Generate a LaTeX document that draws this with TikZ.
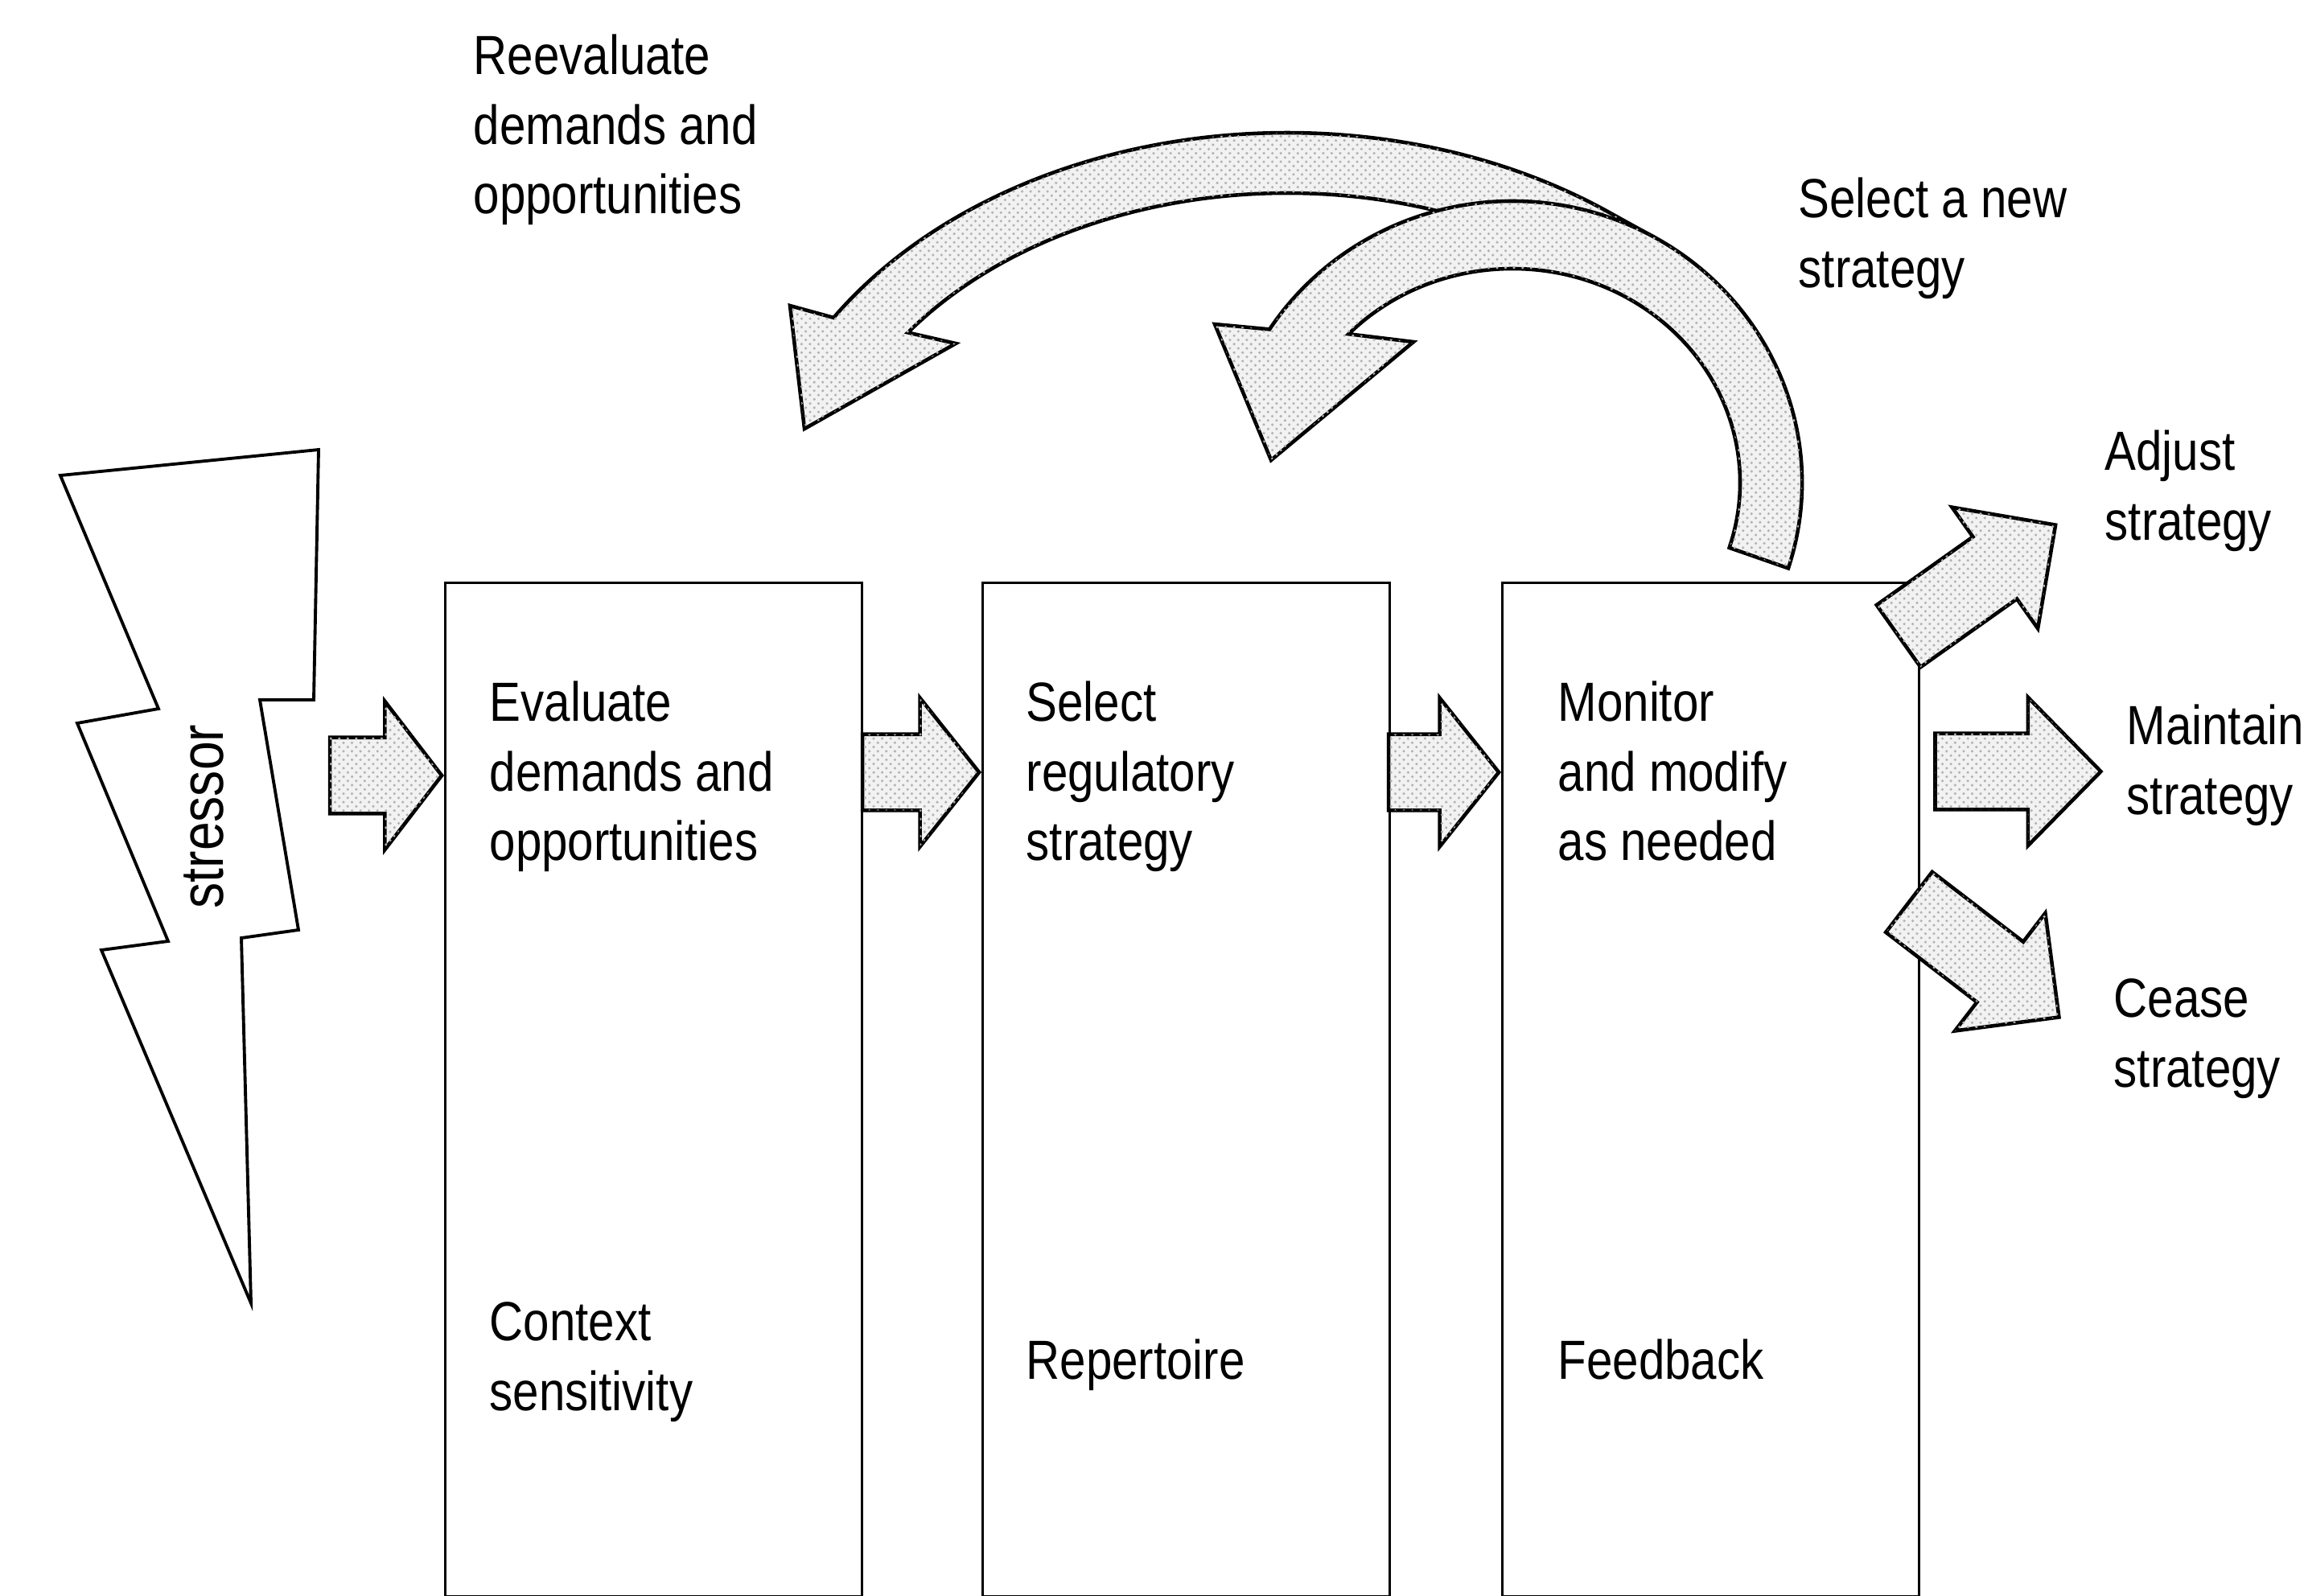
\documentclass[tikz,border=0pt]{standalone}
\usepackage{fontspec}
\setmainfont{Liberation Sans}[FakeStretch=0.85]
\providecommand{\rsColorArrow}{gray!10}
\providecommand{\rsColorDots}{gray!60}
\providecommand{\rsStroke}{black}
\usetikzlibrary{calc,positioning,shapes.arrows,patterns}
\tikzset{
  box/.style 2 args={draw=\rsStroke,line width=0.9pt,minimum width=#1,minimum height=#2,inner sep=0pt,anchor=north west},
  lbl/.style={font=\fontsize{19.5}{24.7}\selectfont,align=left,inner sep=0pt,anchor=north west},
  % light stipple used by every fat arrow
  dotfill/.style={fill=\rsColorArrow,postaction={pattern=crosshatch dots,pattern color=\rsColorDots}},
  barrow/.style={single arrow,draw=\rsStroke,line width=1.3pt,dotfill,minimum height=#1,minimum width=0pt,
    inner xsep=0pt,inner ysep=0.45cm,single arrow head extend=0.45cm,single arrow tip angle=100},
  carrow/.style={draw=\rsStroke,line width=1.3pt,dotfill},
  bolt/.style={draw=\rsStroke,line width=1.1pt,fill=white},
}
\begin{document}
\begin{tikzpicture}
\useasboundingbox (0cm,0cm) rectangle (28.64cm,-19.83cm);

% --- Stage boxes -----------------------------------------------------------

  \node[box={5.18cm}{12.60cm}] (eval) at (5.52cm,-7.23cm) {};

  \node[box={5.06cm}{12.60cm}] (sel) at (12.20cm,-7.23cm) {};

  \node[box={5.18cm}{12.60cm}] (mon) at (18.66cm,-7.23cm) {};

  \node[lbl] (evaltxt) at ([xshift=0.56cm,yshift=-1.23cm]eval.north west) {Evaluate\\demands and\\opportunities};
  \node[lbl] (seltxt) at ([xshift=0.55cm,yshift=-1.23cm]sel.north west) {Select\\regulatory\\strategy};
  \node[lbl] (montxt) at ([xshift=0.70cm,yshift=-1.23cm]mon.north west) {Monitor\\and modify\\as needed};

  \node[lbl] (ctx) at ([xshift=0.56cm,yshift=-8.95cm]eval.north west) {Context\\sensitivity};
  \node[lbl] (rep) at ([xshift=0.55cm,yshift=-9.41cm]sel.north west) {Repertoire};
  \node[lbl] (fb) at ([xshift=0.70cm,yshift=-9.41cm]mon.north west) {Feedback};

% --- Stressor bolt ---------------------------------------------------------

  \draw[bolt] (0.75cm,-5.91cm) -- (3.96cm,-5.59cm) -- (3.90cm,-8.70cm) -- (3.23cm,-8.70cm)
    -- (3.71cm,-11.56cm) -- (3.00cm,-11.66cm) -- (3.12cm,-16.20cm) -- (1.26cm,-11.81cm)
    -- (2.09cm,-11.70cm) -- (0.96cm,-8.99cm) -- (1.97cm,-8.81cm) -- cycle;

  \node[lbl,anchor=center,rotate=90,font=\fontsize{21.5}{26}\selectfont] (stress) at (2.53cm,-10.15cm) {stressor};

% --- Block arrows between stages -------------------------------------------

  \node[barrow=1.39cm,anchor=tip,single arrow tip angle=105] (inEval) at ([yshift=-2.41cm]eval.north west) {};

  \node[barrow=1.45cm,anchor=tip,single arrow tip angle=103] (toSel) at ([yshift=-2.37cm]sel.north west) {};

  \node[barrow=1.37cm,anchor=tip,single arrow tip angle=103] (toMon) at ([yshift=-2.37cm]mon.north west) {};

% --- Outcome arrows --------------------------------------------------------

  \node[barrow=2.39cm,anchor=tail,rotate=35.3,single arrow tip angle=90] (adjust) at ([xshift=-0.29cm,yshift=-0.69cm]mon.north east) {};

  \node[barrow=2.06cm,anchor=tail,single arrow tip angle=91] (maintain) at ([xshift=0.16cm,yshift=-2.36cm]mon.north east) {};

  \node[barrow=2.35cm,anchor=tail,rotate=-37.5,single arrow tip angle=90] (cease) at ([xshift=-0.16cm,yshift=-3.97cm]mon.north east) {};

  \node[lbl] (adjtxt) at (26.16cm,-5.34cm) {Adjust\\strategy};
  \node[lbl] (maintxt) at (26.43cm,-8.75cm) {Maintain\\strategy};
  \node[lbl] (ceasetxt) at (26.27cm,-12.16cm) {Cease\\strategy};

% --- Feedback loops (outer one first, inner one drawn over it) -------------

  \coordinate (cA) at (16.00cm,-6.65cm);
  \coordinate (cB) at (18.80cm,-6.00cm);

  \draw[carrow] ($(cA)+(147.3:6.70cm and 5.00cm)$)
    arc[start angle=147.3,end angle=53,x radius=6.70cm,y radius=5.00cm]
    -- ($(cB)+(62:3.60cm and 3.50cm)$) -- ($(cA)+(68:5.85cm and 4.25cm)$)
    arc[start angle=68,end angle=143.7,x radius=5.85cm,y radius=4.25cm]
    -- (11.88cm,-4.27cm) -- (10.00cm,-5.33cm) -- (9.82cm,-3.80cm) -- cycle;

  \draw[carrow] ($(cB)+(-17.7:3.60cm and 3.50cm)$)
    arc[start angle=-17.7,end angle=147,x radius=3.60cm,y radius=3.50cm]
    -- (15.10cm,-4.03cm) -- (15.80cm,-5.72cm) -- (17.57cm,-4.25cm)
    -- ($(cB)+(136:2.83cm and 2.66cm)$)
    arc[start angle=136,end angle=-17.7,x radius=2.83cm,y radius=2.66cm] -- cycle;

  \node[lbl] (reevtxt) at (5.88cm,-0.42cm) {Reevaluate\\demands and\\opportunities};
  \node[lbl] (newtxt) at (22.35cm,-2.20cm) {Select a new\\strategy};

\end{tikzpicture}
\end{document}
